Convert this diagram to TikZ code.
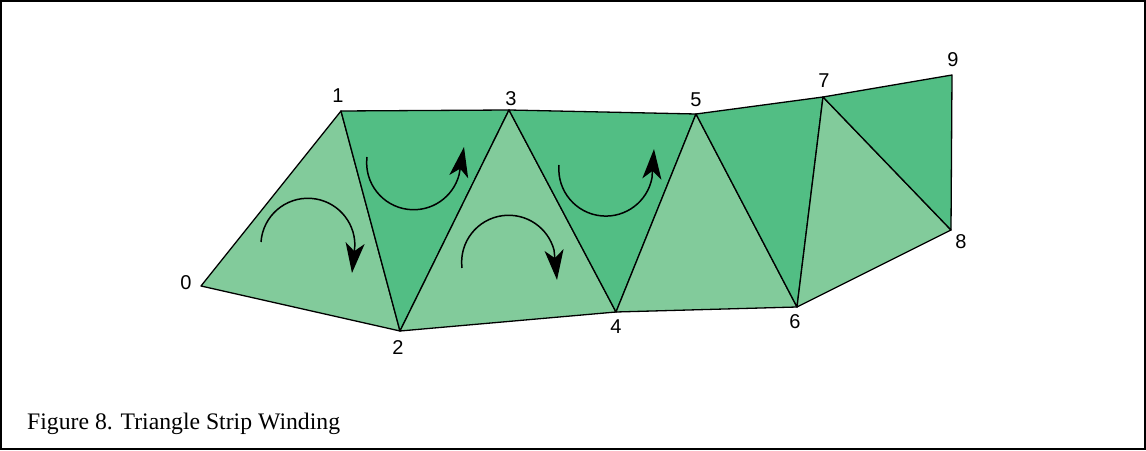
\documentclass[tikz,border=0pt]{standalone}
\usepackage{fontspec}
\setmainfont{Liberation Serif}
\newfontfamily\labelfont{Liberation Sans}
\usetikzlibrary{arrows.meta}
\definecolor{lightgreen}{RGB}{130,203,155}
\definecolor{darkgreen}{RGB}{82,190,132}

\begin{document}
\begin{tikzpicture}[x=1pt,y=1pt,
    vlabel/.style={font=\labelfont\fontsize{20}{20}\selectfont,inner sep=0pt},
    winding/.style={line width=1.5pt,-{Stealth[length=30pt,width=19pt,inset=8pt]}}]
  \useasboundingbox (0,0) rectangle (1146,450);
  \draw[line width=2pt] (1,1) rectangle (1145,449);
  % strip vertices
  \foreach \i/\x/\y in {0/201/164,1/341/339,2/400/119,3/509/340,4/616/138,
                        5/696/336,6/797/143,7/823/353,8/951/220,9/952/375}
    \coordinate (v\i) at (\x,\y);
  % triangles
  \foreach \a/\b/\c/\col in {0/1/2/lightgreen,1/2/3/darkgreen,2/3/4/lightgreen,
                             3/4/5/darkgreen,4/5/6/lightgreen,5/6/7/darkgreen,
                             6/7/8/lightgreen,7/8/9/darkgreen}
    \filldraw[fill=\col,line width=1.3pt,line join=round] (v\a) -- (v\b) -- (v\c) -- cycle;
  % vertex numbers
  \foreach \i/\x/\y in {0/186/167,1/338/354,2/398/102,3/511/351,4/616/123,
                        5/696/350,6/795/128,7/824/369,8/961/208,9/953/390}
    \node[vlabel] (l\i) at (\x,\y) {\i};
  % winding arrows
  \draw[winding] (261,208) arc[start angle=176,end angle=0,radius=47] -- (352,177);
  \draw[winding] (367,293) arc[start angle=173,end angle=345,radius=47] -- (464,303);
  \draw[winding] (462,182) arc[start angle=187,end angle=15,radius=47] -- (557,170);
  \draw[winding] (559,285) arc[start angle=175,end angle=349,radius=47] -- (654,301);
  \node[font=\fontsize{23.7}{24}\selectfont,anchor=base west,inner sep=0pt] (caption)
    at (27,21) {Figure 8. Triangle Strip Winding};
\end{tikzpicture}
\end{document}
